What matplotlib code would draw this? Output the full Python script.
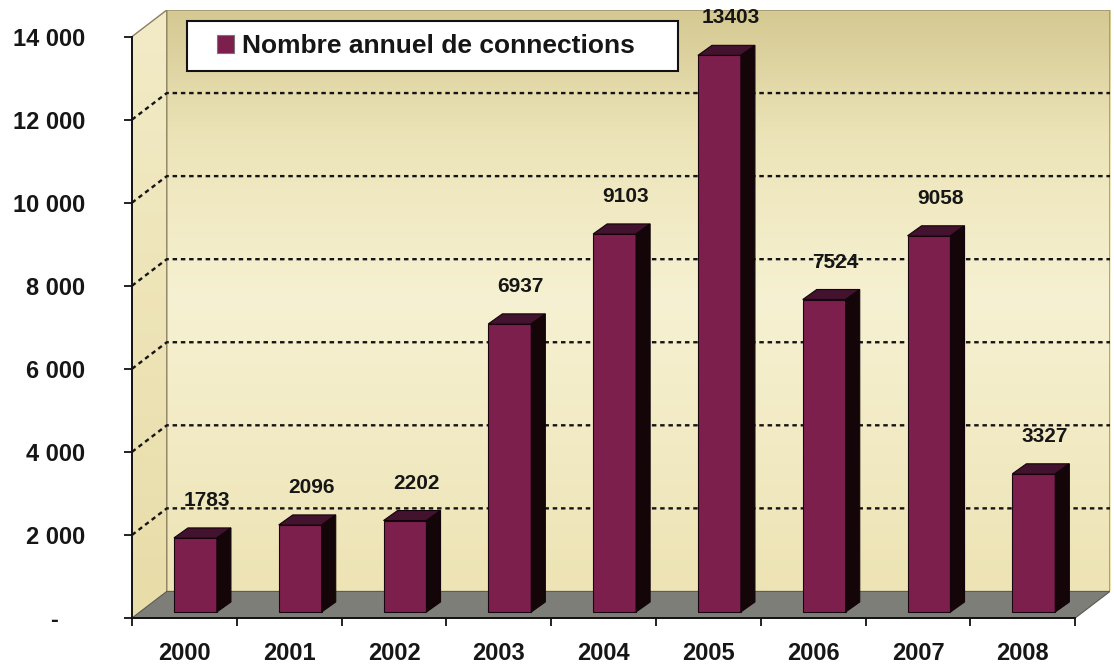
import numpy as np
import matplotlib
matplotlib.use("Agg")
import matplotlib.pyplot as plt
from matplotlib.patches import Polygon, Rectangle
from matplotlib.colors import LinearSegmentedColormap

years = ["2000", "2001", "2002", "2003", "2004", "2005", "2006", "2007", "2008"]
connections = [1783, 2096, 2202, 6937, 9103, 13403, 7524, 9058, 3327]
y_ticks = [0, 2000, 4000, 6000, 8000, 10000, 12000, 14000]
series_name = "Nombre annuel de connections"

plt.rcParams["font.family"] = ["Liberation Sans", "DejaVu Sans"]

# fake 3d depth of the walls (data units)
DX, DY = 0.332, 640
# bar geometry: front face offset / width, side depth
BAR_SHIFT, BAR_W, BAR_BASE = 0.105, 0.41, 145
SX, SY = 0.134, 241

FRONT = "#7c1f4c"
TOP = "#43122e"
SIDE = "#140509"
TEXT = "#161616"

fig = plt.figure(figsize=(11.14, 6.65), dpi=100)
ax = fig.add_axes([132 / 1114, 47 / 665, 978 / 1114, 608 / 665])

n = len(years)
ymax = y_ticks[-1]

# back wall with a vertical gradient
wall_cmap = LinearSegmentedColormap.from_list(
    "wall", [(0, "#ede3b4"), (0.5, "#f6f1d2"), (0.78, "#ece4b8"), (1, "#d5c992")])
grad = np.linspace(0, 1, 256).reshape(-1, 1)
ax.imshow(grad, extent=[-0.5 + DX, n - 0.5 + DX, DY, ymax + DY], origin="lower",
          aspect="auto", cmap=wall_cmap, zorder=0)
ax.plot([-0.5 + DX, n - 0.5 + DX, n - 0.5 + DX], [ymax + DY, ymax + DY, DY],
        color="#a39473", lw=1.2, zorder=0.5)

# left side wall
side_cmap = LinearSegmentedColormap.from_list("side", ["#e8dca8", "#f2ebc6"])
side_poly = Polygon([(-0.5, 0), (-0.5, ymax), (-0.5 + DX, ymax + DY), (-0.5 + DX, DY)],
                    closed=True, facecolor="none", edgecolor="none")
ax.add_patch(side_poly)
im = ax.imshow(grad, extent=[-0.5, -0.5 + DX, 0, ymax + DY], origin="lower",
               aspect="auto", cmap=side_cmap, zorder=0.6)
im.set_clip_path(side_poly)
ax.plot([-0.5, -0.5 + DX, -0.5 + DX], [ymax, ymax + DY, DY], color="#8c7f5e", lw=1.0, zorder=0.7)

# floor
ax.add_patch(Polygon([(-0.5, 0), (n - 0.5, 0), (n - 0.5 + DX, DY), (-0.5 + DX, DY)],
                     closed=True, facecolor="#7e7e78", edgecolor="#5a5a55", lw=0.8, zorder=1))

# gridlines on side and back walls
for v in y_ticks[1:-1]:
    ax.plot([-0.5, -0.5 + DX, n - 0.5 + DX], [v, v + DY, v + DY],
            color="#141414", lw=1.7, linestyle=(0, (1.9, 1.6)), zorder=1.5)

# bars: front face through ax.bar, top and side faces as polygons
x = np.arange(n)
ax.bar(x + BAR_SHIFT, connections, width=BAR_W, bottom=BAR_BASE, color=FRONT,
       edgecolor="#1a0610", linewidth=0.8, zorder=3, label=series_name)
for xi, v in zip(x, connections):
    xl = xi + BAR_SHIFT - BAR_W / 2
    xr = xi + BAR_SHIFT + BAR_W / 2
    top = BAR_BASE + v
    ax.add_patch(Polygon([(xl, top), (xr, top), (xr + SX, top + SY), (xl + SX, top + SY)],
                         closed=True, facecolor=TOP, edgecolor="#12040a", lw=0.8, zorder=3))
    ax.add_patch(Polygon([(xr, BAR_BASE), (xr + SX, BAR_BASE + SY), (xr + SX, top + SY), (xr, top)],
                         closed=True, facecolor=SIDE, edgecolor="#12040a", lw=0.8, zorder=3))
    ax.text(xi + BAR_SHIFT + 0.105, top + 900, f"{v}", ha="center", va="center",
            fontsize=15, fontweight="bold", color=TEXT, zorder=4)

ax.set_xlim(-0.5, n - 0.5 + DX)
ax.set_ylim(0, ymax + DY)

# axes, ticks
for s in ["top", "right"]:
    ax.spines[s].set_visible(False)
ax.spines["left"].set_bounds(0, ymax)
ax.spines["bottom"].set_bounds(-0.5, n - 0.5)
for s in ["left", "bottom"]:
    ax.spines[s].set_linewidth(1.4)
    ax.spines[s].set_color("#111111")
    ax.spines[s].set_zorder(4)

ax.set_yticks(y_ticks)
ax.set_yticklabels(["-    " if v == 0 else f"{v:,}".replace(",", " ") for v in y_ticks])
ax.tick_params(axis="y", direction="out", length=5.8, width=1.3, pad=28,
               labelsize=17, labelcolor=TEXT, color="#111111")

ax.set_xticks(x)
ax.set_xticklabels(years)
ax.set_xticks(np.arange(n + 1) - 0.5, minor=True)
ax.tick_params(axis="x", which="major", length=0, pad=17, labelsize=17, labelcolor=TEXT)
ax.tick_params(axis="x", which="minor", direction="out", length=5.8, width=1.3, color="#111111")
for lab in ax.get_xticklabels() + ax.get_yticklabels():
    lab.set_fontweight("bold")

# legend box
ax.add_patch(Rectangle((0.0562, 0.8997), 0.5021, 0.0822, transform=ax.transAxes,
                       facecolor="white", edgecolor="#111111", lw=1.5, zorder=5))
leg = ax.legend(loc="center left", bbox_to_anchor=(0.0869, 0.9408), frameon=False,
                borderpad=0, borderaxespad=0, handlelength=0.65, handleheight=0.65,
                handletextpad=0.3, prop={"size": 19, "weight": "bold"})
leg.set_zorder(6)
for h in leg.legend_handles:
    h.set_edgecolor("#777777")
for t in leg.get_texts():
    t.set_color(TEXT)

fig.savefig("out.png", dpi=100)
